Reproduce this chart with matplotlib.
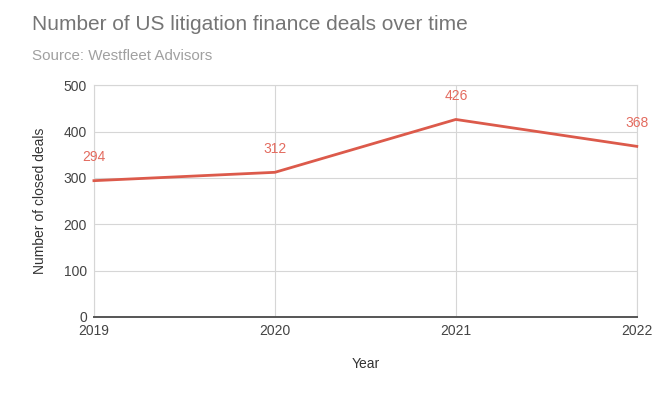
import matplotlib.pyplot as plt

years = [2019, 2020, 2021, 2022]
deals = [294, 312, 426, 368]
y_ticks = [0, 100, 200, 300, 400, 500]

plt.rcParams['font.family'] = ['Liberation Sans', 'DejaVu Sans']

fig = plt.figure(figsize=(6.71, 3.96), dpi=100)
ax = fig.add_axes([0.140, 0.1995, 0.809, 0.5855])

line_color = '#dc5a4b'
label_color = '#e36b5f'

ax.plot(years, deals, color=line_color, linewidth=2, zorder=3, clip_on=False)
for x, y in zip(years, deals):
    ax.annotate(str(y), (x, y), textcoords='offset points', xytext=(0, 17),
                ha='center', va='center', color=label_color, fontsize=10)

ax.set_xlim(years[0], years[-1])
ax.set_ylim(0, 500)
ax.set_xticks(years)
ax.set_yticks(y_ticks)
ax.grid(True, color='#d6d6d6', linewidth=0.8)
ax.set_axisbelow(True)

for side in ['top', 'left', 'right']:
    ax.spines[side].set_color('#d6d6d6')
    ax.spines[side].set_linewidth(0.8)
ax.spines['bottom'].set_color('#555555')
ax.spines['bottom'].set_linewidth(1.4)
ax.tick_params(length=0, colors='#444444', labelsize=10)
ax.tick_params(axis='y', pad=5)
ax.tick_params(axis='x', pad=5)

ax.set_xlabel('Year', fontsize=10, color='#333333', labelpad=14)
ax.set_ylabel('Number of closed deals', fontsize=10, color='#333333', labelpad=12)

fig.text(32 / 671, 1 - 25 / 396, 'Number of US litigation finance deals over time',
         fontsize=15, color='#757575', va='center', ha='left')
fig.text(32 / 671, 1 - 56 / 396, 'Source: Westfleet Advisors',
         fontsize=10.9, color='#a0a0a0', va='center', ha='left')

fig.savefig('out.png', dpi=100, facecolor='white')
